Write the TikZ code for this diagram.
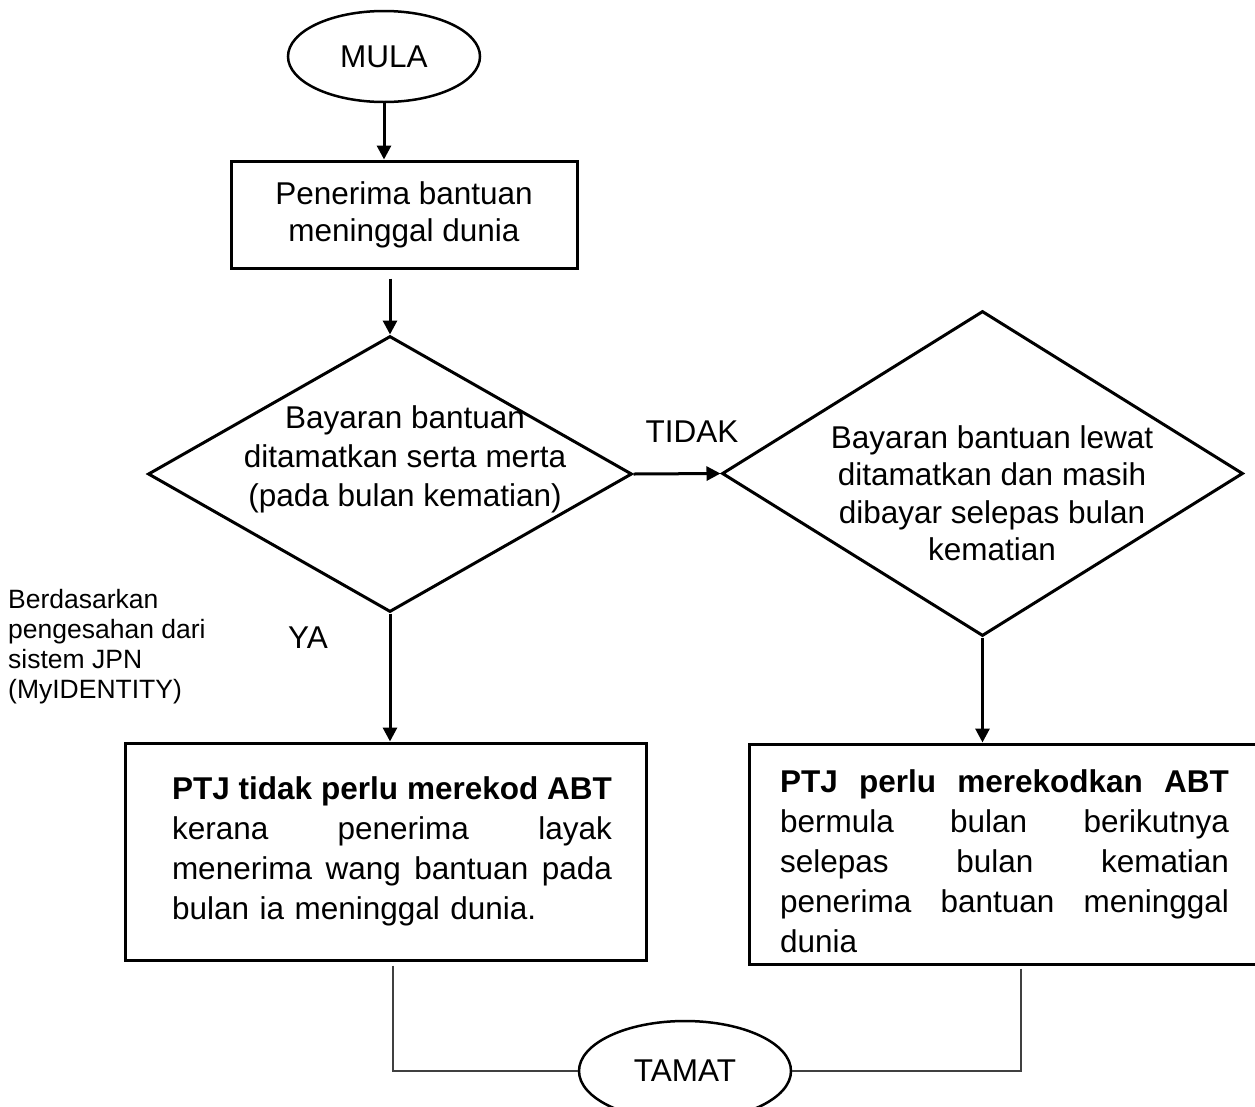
\documentclass[tikz,border=0pt]{standalone}
\usepackage{fontspec}
\setmainfont{Liberation Sans}
\usetikzlibrary{shapes.geometric,arrows.meta}
\begin{document}
\begin{tikzpicture}[x=1pt,y=-1pt,
  main/.style={draw, line width=3pt},
  term/.style={draw, line width=2.5pt, ellipse, inner sep=0pt, font=\fontsize{31.5}{39}\selectfont},
  procbox/.style={main, rectangle, inner sep=0pt, align=center, font=\fontsize{31.5}{37}\selectfont},
  decis/.style={main, diamond, inner sep=0pt},
  txt/.style={inner sep=0pt, align=center, font=\fontsize{31.5}{39}\selectfont},
  para/.style={inner sep=0pt, align=left, font=\fontsize{31.5}{40}\selectfont},
  arr/.style={line width=3pt, -{Triangle[length=14pt,width=14pt]}},
  thinln/.style={line width=1.3pt, draw=black!75},
  note/.style={inner sep=0pt, align=left, font=\fontsize{26.5}{30}\selectfont}
]
\useasboundingbox (0,0) rectangle (1255,1106);
\clip (0,0) rectangle (1255,1106);

% nodes
\node[term, minimum width=192pt, minimum height=91pt] (mula) at (384,56.5) {MULA};
\node[procbox, minimum width=346pt, minimum height=107pt] (b1) at (404,214.5) {Penerima bantuan\\meninggal dunia};
\node[decis, minimum width=484pt, minimum height=276pt] (d1) at (390,474) {};
\node[txt] (d1t) at (405,459) {Bayaran bantuan\\ditamatkan serta merta\\(pada bulan kematian)};
\node[decis, minimum width=521pt, minimum height=325pt] (d2) at (982.5,473.5) {};
\node[txt, font=\fontsize{31.5}{37.5}\selectfont] (d2t) at (992,493) {Bayaran bantuan lewat\\ditamatkan dan masih\\dibayar selepas bulan\\kematian};
\node[main, rectangle, inner sep=0pt, minimum width=521pt, minimum height=217pt] (lb) at (385.5,851.5) {};
\node[para, text width=440pt] (lbt) at (392,851) {%
\makebox[440pt][l]{\bfseries PTJ\hfill tidak\hfill perlu\hfill merekod\hfill ABT}\\
\makebox[440pt][l]{kerana\hfill penerima\hfill layak}\\
\makebox[440pt][l]{menerima\hfill wang\hfill bantuan\hfill pada}\\
bulan ia meninggal dunia.};
\node[main, rectangle, inner sep=0pt, minimum width=513pt, minimum height=220pt] (rb) at (1005.5,854) {};
\node[para, text width=449pt] (rbt) at (1004.5,861) {%
\makebox[449pt][l]{\bfseries PTJ\hfill perlu\hfill merekodkan\hfill ABT}\\
\makebox[449pt][l]{bermula\hfill bulan\hfill berikutnya}\\
\makebox[449pt][l]{selepas\hfill bulan\hfill kematian}\\
\makebox[449pt][l]{penerima\hfill bantuan\hfill meninggal}\\
dunia};
\node[term, minimum width=212pt, minimum height=100pt] (tamat) at (685,1071) {TAMAT};

% labels
\node[txt] (tidak) at (692,432) {TIDAK};
\node[txt] (ya) at (308,638) {YA};
\node[note, anchor=north west] (nota) at (8,589) {Berdasarkan\\pengesahan dari\\sistem JPN\\(MyIDENTITY)};

% connectors
\draw[arr] (mula.south) -- (mula.south |- b1.north);
\draw[arr] ([yshift=-9pt]b1.south -| d1.north) -- (d1.north);
\draw[arr] (d1.east) -- (d2.west);
\draw[arr] (d1.south) -- (d1.south |- lb.north);
\draw[arr] (d2.south) -- (d2.south |- rb.north);
\coordinate (lbb) at ([yshift=-4pt]lb.south -| 393,0);
\coordinate (rbb) at ([yshift=-3pt]rb.south -| 1021,0);
\draw[thinln] (lbb) |- (tamat.west);
\draw[thinln] (rbb) |- (tamat.east);
\end{tikzpicture}
\end{document}
